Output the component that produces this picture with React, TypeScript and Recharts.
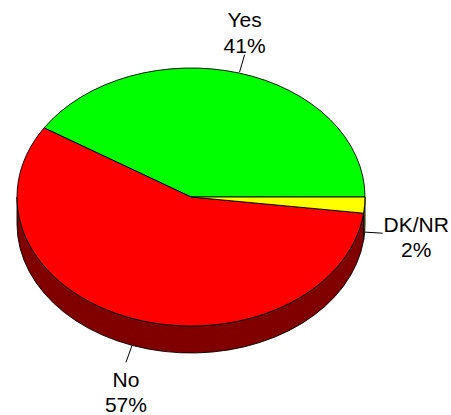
import React from 'react';
import { PieChart, Pie, Cell } from 'recharts';

const categories = ['Yes', 'No', 'DK/NR'];
const values = [41, 57, 2];
const topColors = ['#00FF00', '#FF0000', '#FFFF00'];
const sideColors = ['#008000', '#800000', '#808000'];

const data = categories.map((name, i) => ({ name, value: values[i] }));

const TILT = 129 / 174;
const DEPTH = 27;
const RAD = Math.PI / 180;
const FONT = '"Liberation Sans", Arial, sans-serif';
const FONT_SIZE = 21;

function pt(cx: number, cy: number, rx: number, ry: number, a: number): [number, number] {
  return [cx + rx * Math.cos(a * RAD), cy - ry * Math.sin(a * RAD)];
}

let ctx: CanvasRenderingContext2D | null = null;
function textWidth(s: string): number {
  if (!ctx) {
    const c = document.createElement('canvas');
    ctx = c.getContext('2d');
  }
  if (!ctx) return s.length * FONT_SIZE * 0.6;
  ctx.font = `${FONT_SIZE}px ${FONT}`;
  return ctx.measureText(s).width;
}

function Slice3D(props: any) {
  const { cx, cy, outerRadius, startAngle, endAngle, name } = props;
  const idx = Math.max(0, categories.indexOf(name ?? props.payload?.name));
  const rx = outerRadius;
  const ry = outerRadius * TILT;
  const s = Math.min(startAngle, endAngle);
  const e = Math.max(startAngle, endAngle);
  const [sx, sy] = pt(cx, cy, rx, ry, s);
  const [ex, ey] = pt(cx, cy, rx, ry, e);
  const large = e - s > 180 ? 1 : 0;
  const top = `M${cx},${cy} L${sx},${sy} A${rx},${ry} 0 ${large} 0 ${ex},${ey} Z`;
  let side: string | null = null;
  const a = Math.max(s, 180);
  const b = Math.min(e, 360);
  if (a < b) {
    const [ax, ay] = pt(cx, cy, rx, ry, a);
    const [bx, by] = pt(cx, cy, rx, ry, b);
    side = `M${ax},${ay} A${rx},${ry} 0 0 0 ${bx},${by} L${bx},${by + DEPTH} A${rx},${ry} 0 0 1 ${ax},${ay + DEPTH} Z`;
  }
  return (
    <g>
      {side && <path d={side} fill={sideColors[idx]} stroke="#000" strokeWidth={0.9} strokeLinejoin="round" />}
      <path d={top} fill={topColors[idx]} stroke="#000" strokeWidth={0.9} strokeLinejoin="round" />
    </g>
  );
}

function renderLabel(props: any) {
  const { cx, cy, outerRadius, midAngle, name, percent } = props;
  const rx = outerRadius;
  const ry = outerRadius * TILT;
  const c = Math.cos(midAngle * RAD);
  const sn = Math.sin(midAngle * RAD);
  const [x0, y0raw] = pt(cx, cy, rx, ry, midAngle);
  const y0 = sn < 0 ? y0raw + DEPTH : y0raw - 1;
  const L = 18;
  const x1 = x0 + c * L;
  const y1 = y0 - sn * L;
  const pct = `${Math.round(percent * 100)}%`;
  let tx = x1;
  let b1 = 0;
  let b2 = 0;
  if (Math.abs(c) > 0.9) {
    const w = Math.max(textWidth(name), textWidth(pct));
    tx = c > 0 ? x1 + 1 + w / 2 : x1 - 1 - w / 2;
    b1 = y1 - 1;
    b2 = b1 + 25;
  } else if (sn > 0) {
    b2 = y1 - 2;
    b1 = b2 - 26;
  } else {
    b1 = y1 + 25;
    b2 = b1 + 25;
  }
  return (
    <g>
      <line x1={x0} y1={y0} x2={x1} y2={y1} stroke="#000" strokeWidth={1} />
      <text x={tx} y={b1} textAnchor="middle" fontFamily={FONT} fontSize={FONT_SIZE} fill="#000">{name}</text>
      <text x={tx} y={b2} textAnchor="middle" fontFamily={FONT} fontSize={FONT_SIZE} fill="#000">{pct}</text>
    </g>
  );
}

export default function App() {
  return (
    <div style={{ position: 'absolute', left: 0, top: 0, width: 451, height: 415, background: '#fff' }}>
      <PieChart width={451} height={415} margin={{ top: 0, right: 0, bottom: 0, left: 0 }}>
        <Pie
          data={data}
          dataKey="value"
          nameKey="name"
          cx={191}
          cy={197}
          outerRadius={174}
          startAngle={0}
          endAngle={360}
          stroke="#000"
          isAnimationActive={false}
          shape={Slice3D}
          activeShape={Slice3D}
          inactiveShape={Slice3D}
          label={renderLabel}
          labelLine={false}
        >
          {data.map((d, i) => (
            <Cell key={d.name} fill={topColors[i]} />
          ))}
        </Pie>
      </PieChart>
    </div>
  );
}
